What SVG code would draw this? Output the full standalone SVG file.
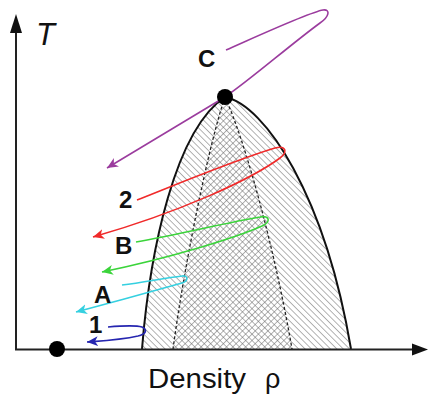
<svg xmlns="http://www.w3.org/2000/svg" width="428" height="396" viewBox="0 0 428 396">
<style>
.lbl{font-family:"Liberation Sans",Arial,sans-serif;font-weight:bold;font-size:24px;fill:#111}
.axis{stroke:#222;stroke-width:2;fill:none}
.hl{stroke:#666;stroke-width:1}
.spin{fill:none;stroke:#222;stroke-width:1.3;stroke-dasharray:3 2.2}
.bin{fill:none;stroke:#111;stroke-width:2}
.tr{fill:none;stroke-width:1.6}
</style>
<defs>
<pattern id="hatchA" width="4.5" height="4.5" patternUnits="userSpaceOnUse" patternTransform="rotate(-45)">
<line x1="0" y1="-1" x2="0" y2="6" class="hl"/>
</pattern>
<pattern id="hatchB" width="4.5" height="4.5" patternUnits="userSpaceOnUse" patternTransform="rotate(45)">
<line x1="0" y1="-1" x2="0" y2="6" class="hl"/>
</pattern>
<marker id="mP" markerWidth="14" markerHeight="12" refX="11" refY="5" orient="auto" markerUnits="userSpaceOnUse"><path d="M11,5 L0,0 L3,5 L0,10 Z" fill="#9b3c9e"/></marker>
<marker id="mR" markerWidth="14" markerHeight="12" refX="11" refY="5" orient="auto" markerUnits="userSpaceOnUse"><path d="M11,5 L0,0 L3,5 L0,10 Z" fill="#f02a2a"/></marker>
<marker id="mG" markerWidth="14" markerHeight="12" refX="11" refY="5" orient="auto" markerUnits="userSpaceOnUse"><path d="M11,5 L0,0 L3,5 L0,10 Z" fill="#3bd43b"/></marker>
<marker id="mC" markerWidth="14" markerHeight="12" refX="11" refY="5" orient="auto" markerUnits="userSpaceOnUse"><path d="M11,5 L0,0 L3,5 L0,10 Z" fill="#35d0e0"/></marker>
<marker id="mB" markerWidth="14" markerHeight="12" refX="11" refY="5" orient="auto" markerUnits="userSpaceOnUse"><path d="M11,5 L0,0 L3,5 L0,10 Z" fill="#2626b0"/></marker>
</defs>

<g id="binodal">
<path d="M142,349 C150,250 175,130 225,97 C265,105 325,195 351,349 Z" fill="url(#hatchA)"/>
</g>
<g id="spinodal">
<path d="M225,97 C210,140 185,260 173,349 L292,349 C275,250 245,140 225,97 Z" fill="url(#hatchB)"/>
<path d="M225,97 C210,140 185,260 173,349" class="spin"/>
<path d="M225,97 C245,140 275,250 292,349" class="spin"/>
</g>
<g id="binodal-line">
<path d="M142,349 C150,250 175,130 225,97 C265,105 325,195 351,349" class="bin"/>
</g>

<g id="axes">
<line x1="16" y1="30" x2="16" y2="349.5" class="axis"/>
<path d="M16,14 L10,33 L22,33 Z" fill="#111"/>
<line x1="15" y1="349.5" x2="414" y2="349.5" class="axis"/>
<path d="M428,349.5 L412,343.5 L412,355.5 Z" fill="#111"/>
<text x="36" y="45" font-family="Liberation Sans, Arial, sans-serif" font-style="italic" font-size="31" fill="#111">T</text>
<text x="148" y="388" font-family="Liberation Sans, Arial, sans-serif" font-size="27" fill="#111" textLength="98" lengthAdjust="spacingAndGlyphs">Density</text>
<text x="265" y="388" font-family="Liberation Sans, Arial, sans-serif" font-size="27" fill="#111">ρ</text>
</g>

<g id="connectors">
<path d="M226,50 C260,35 310,12 323,10 C331,9 329,17 320,23 C290,45 250,80 225,97 L107,168" class="tr" stroke="#9b3c9e" marker-end="url(#mP)"/>
<path d="M137,200 C175,185 235,160 275,148 C286,145 288,152 280,158 C250,180 180,212 93,237" class="tr" stroke="#f02a2a" marker-end="url(#mR)"/>
<path d="M136,242 C180,234 230,222 260,217 C270,215 271,222 262,226 C235,238 170,258 102,272" class="tr" stroke="#3bd43b" marker-end="url(#mG)"/>
<path d="M122,285 C145,282 165,278 182,276 C188,275 189,281 182,283 C150,292 110,303 76,312" class="tr" stroke="#35d0e0" marker-end="url(#mC)"/>
<path d="M108,327 C120,326 135,325 142,327 C148,330 146,334 138,336 C120,340 100,341 87,342" class="tr" stroke="#2626b0" marker-end="url(#mB)"/>
</g>

<g id="critical-point"><circle cx="225" cy="97" r="8" fill="#000"/></g>
<g id="origin-point"><circle cx="57" cy="349" r="8" fill="#000"/></g>

<g id="label-C"><text x="198" y="67" class="lbl">C</text></g>
<g id="label-2"><text x="119" y="208" class="lbl">2</text></g>
<g id="label-B"><text x="115" y="254" class="lbl">B</text></g>
<g id="label-A"><text x="94" y="303" class="lbl">A</text></g>
<g id="label-1"><text x="89" y="333" class="lbl">1</text></g>
</svg>
